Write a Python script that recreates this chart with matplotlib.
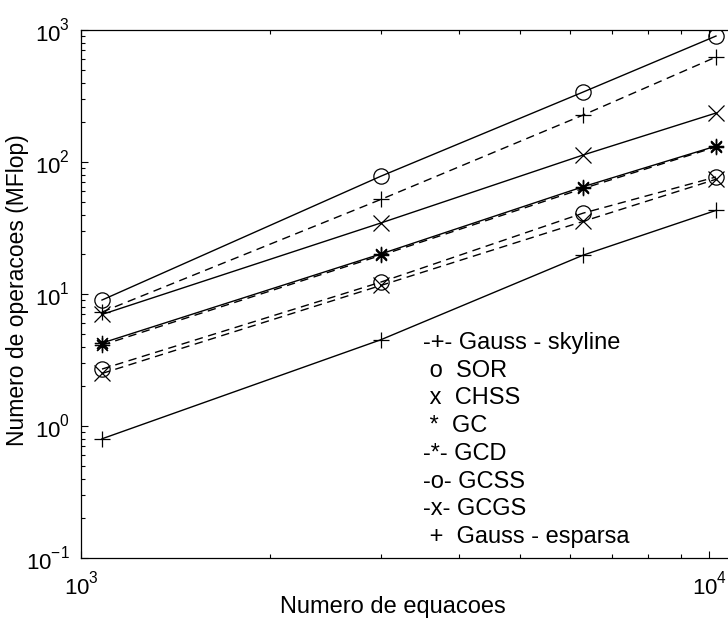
import matplotlib
matplotlib.use('Agg')
import matplotlib.pyplot as plt
from matplotlib.ticker import LogLocator, NullFormatter

font = {'family': ['Liberation Sans', 'DejaVu Sans'],
        'size': 16}
matplotlib.rc('font', **font)
matplotlib.rc('mathtext', fontset='custom', rm='Liberation Sans')
matplotlib.rc('axes', unicode_minus=False)

# raise the exponents a bit, closer to the old matlab look
try:
    import matplotlib._mathtext as _mt
    _mt.FontConstantsBase.sup1 = 0.95
except Exception:
    pass

# numero de equacoes
n_eq = [1080, 3000, 6300, 10250]

# MFlop per method
gauss_skyline = [7.3, 52, 227, 624]
sor = [9.0, 78, 339, 900]
chss = [7.0, 34.5, 113, 235]
gc = [4.25, 20.1, 65, 132]
gcd = [4.1, 19.6, 63, 130]
gcss = [2.7, 12.3, 41, 77]
gcgs = [2.5, 11.6, 35.5, 74]
gauss_esparsa = [0.8, 4.5, 19.7, 43]

legend_lines = ['-+- Gauss - skyline', ' o  SOR', ' x  CHSS', ' *  GC',
                '-*- GCD', '-o- GCSS', '-x- GCGS', ' +  Gauss - esparsa']

W, H = 728, 628
fig = plt.figure(figsize=(W / 100, H / 100), dpi=100)
# axis runs past the right edge of the picture (cropped like the original)
ax = fig.add_axes([81 / W, (H - 558) / H, 678 / W, 528 / H])

asterisk = (8, 2, 0)
dash = (0, (6, 4))
kw = dict(color='black', lw=1.0, ms=11, mfc='none', mew=0.9)

ax.plot(n_eq, gauss_skyline, marker='+', ls=dash, **kw)
ax.plot(n_eq, sor, marker='o', ls='-', **kw)
ax.plot(n_eq, chss, marker='x', ls='-', **kw)
ax.plot(n_eq, gc, marker=asterisk, ls='-', **kw)
ax.plot(n_eq, gcd, marker=asterisk, ls=dash, **kw)
ax.plot(n_eq, gcss, marker='o', ls=dash, **kw)
ax.plot(n_eq, gcgs, marker='x', ls=dash, **kw)
ax.plot(n_eq, gauss_esparsa, marker='+', ls='-', **kw)

ax.set_xscale('log')
ax.set_yscale('log')
ax.set_xlim(1000, 12000)
ax.set_ylim(0.1, 1000)

ax.xaxis.set_major_locator(LogLocator(base=10, numticks=10))
ax.xaxis.set_minor_locator(LogLocator(base=10, subs=range(2, 10), numticks=10))
ax.xaxis.set_minor_formatter(NullFormatter())
ax.yaxis.set_minor_locator(LogLocator(base=10, subs=range(2, 10), numticks=10))
ax.yaxis.set_minor_formatter(NullFormatter())

ax.tick_params(which='both', direction='in', top=True, right=True,
               width=0.8, color='black')
ax.tick_params(which='major', length=5)
ax.tick_params(which='minor', length=3)
ax.tick_params(axis='x', which='major', pad=9, labelsize=16)
ax.tick_params(axis='y', which='major', pad=8, labelsize=16)
for s in ax.spines.values():
    s.set_linewidth(0.9)

fig.text(18 / W, 1 - 290 / H, 'Numero de operacoes (MFlop)', rotation=90,
         ha='center', va='center', fontsize=16.5)
fig.text(393 / W, 1 - 607 / H, 'Numero de equacoes', ha='center',
         va='center', fontsize=17)

for i, line in enumerate(legend_lines):
    fig.text(423 / W, 1 - (343 + i * 27.7) / H, line, ha='left',
             va='center', fontsize=17)

fig.savefig('out.png', dpi=100, facecolor='white')
